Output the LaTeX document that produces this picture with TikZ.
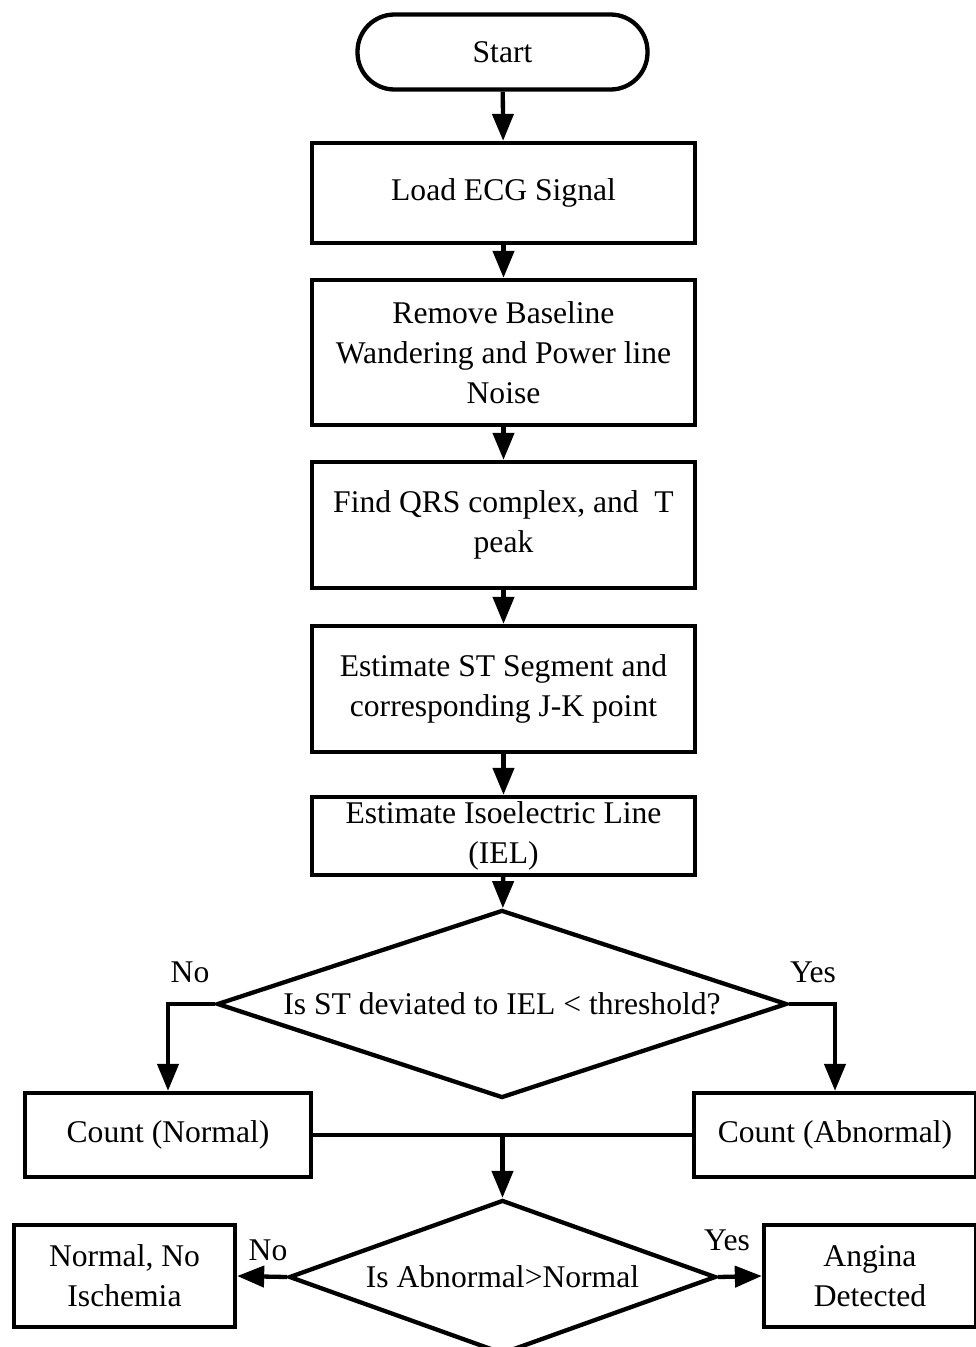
\documentclass[tikz,border=0pt]{standalone}
\usepackage{fontspec}
\setmainfont{Liberation Serif}
\usetikzlibrary{arrows.meta,shapes.geometric}
\begin{document}
\begin{tikzpicture}[x=1pt,y=-1pt, line width=4.3pt,
  txt/.style={font=\fontsize{31.6}{40}\selectfont},
  box/.style={draw, rectangle, align=center, inner sep=0pt, txt},
  term/.style={box, rounded corners=37pt},
  dec/.style={draw, diamond, align=center, inner sep=0pt, txt},
  lbl/.style={inner sep=0pt, txt},
  arr/.style={-{Triangle[length=27pt,width=21pt]}}]
\useasboundingbox (0,0) rectangle (976,1347);
\node[term, minimum width=290pt, minimum height=75pt] (start) at (502.5,52) {Start};
\node[box, minimum width=383pt, minimum height=100pt] (load) at (503.5,193) {Load ECG Signal};
\node[box, minimum width=383pt, minimum height=145pt] (rem) at (503.5,352.5) {Remove Baseline\\Wandering and Power line\\Noise};
\node[box, minimum width=383pt, minimum height=126pt] (qrs) at (503.5,525) {Find QRS complex, and\ \ T\\peak};
\node[box, minimum width=383pt, minimum height=126pt] (st) at (503.5,689) {Estimate ST Segment and\\corresponding J-K point};
\node[box, minimum width=383pt, minimum height=78pt] (iel) at (503.5,836) {Estimate Isoelectric Line\\(IEL)};
\node[dec, shape aspect=3.03, minimum width=570pt, minimum height=188pt] (d1) at (502,1004) {Is ST deviated to IEL {\textless} threshold?};
\node[box, minimum width=286pt, minimum height=84pt] (cn) at (168,1135) {Count (Normal)};
\node[box, minimum width=282pt, minimum height=84pt] (ca) at (835,1135) {Count (Abnormal)};
\node[dec, shape aspect=2.77, minimum width=427pt, minimum height=154pt] (d2) at (502.5,1277) {Is Abnormal{\textgreater}Normal};
\node[box, minimum width=221pt, minimum height=102pt] (nn) at (124.5,1276) {Normal, No\\Ischemia};
\node[box, minimum width=212pt, minimum height=102pt] (ad) at (870,1276) {Angina\\Detected};
\node[lbl] (no1) at (190,972) {No};
\node[lbl] (yes1) at (813,972) {Yes};
\node[lbl] (no2) at (268,1250) {No};
\node[lbl] (yes2) at (727,1240) {Yes};
\draw[arr] (start) -- (load);
\draw[arr] (load) -- (rem);
\draw[arr] (rem) -- (qrs);
\draw[arr] (qrs) -- (st);
\draw[arr] (st) -- (iel);
\draw[arr] (iel) -- (d1);
\draw[arr] (d1.west) -| (cn.north);
\draw[arr] (d1.east) -| (ca.north);
\draw (cn.east) -- (ca.west);
\coordinate (m) at (cn.east -| d2.north);
\draw[arr] (m) -- (d2.north);
\draw[arr] (d2.west) -- (nn.east);
\draw[arr] (d2.east) -- (ad.west);
\end{tikzpicture}
\end{document}
